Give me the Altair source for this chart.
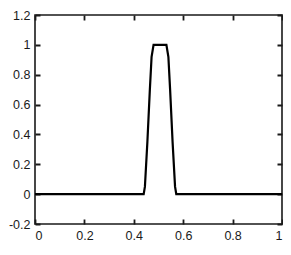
import altair as alt
import pandas as pd

# data
xs = [0, 0.44, 0.445, 0.455, 0.465, 0.472, 0.48, 0.532, 0.54, 0.547, 0.557, 0.567, 0.572, 1]
ys = [0, 0, 0.05, 0.35, 0.7, 0.92, 1, 1, 0.92, 0.7, 0.35, 0.05, 0, 0]
x_ticks = [0, 0.2, 0.4, 0.6, 0.8, 1]
y_ticks = [-0.2, 0, 0.2, 0.4, 0.6, 0.8, 1, 1.2]

df = pd.DataFrame({"x": xs, "y": ys})

W, H = 247, 209
TL = 5  # inward tick length
INK = "#1a1a1a"
FONT = "Liberation Sans"
LABEL = "replace(format(datum.value, '~g'), '\u2212', '-')"

def ax(orient, values, span):
    # MATLAB-style inward ticks on both sides, drawn as dashed grid stubs
    return alt.Axis(
        orient=orient, values=values, domain=False, title=None,
        ticks=False, grid=True, gridColor=INK, gridOpacity=1, gridWidth=1.8,
        gridDash=[TL, span - 2 * TL, TL, 1000],
        labelExpr=LABEL, labelFont=FONT, labelFontSize=12.5,
        labelColor=INK, labelPadding=5,
    )

xscale = alt.Scale(domain=[0, 1], nice=False, zero=False)
yscale = alt.Scale(domain=[-0.2, 1.2], nice=False, zero=False)

chart = (
    alt.Chart(df)
    .mark_line(color="black", strokeWidth=2.2)
    .encode(
        x=alt.X("x:Q", scale=xscale, axis=ax("bottom", x_ticks, H)),
        y=alt.Y("y:Q", scale=yscale, axis=ax("left", y_ticks, W)),
    )
    .properties(
        width=W, height=H,
        autosize=alt.AutoSizeParams(type="none"),
        padding={"left": 27, "top": 7, "right": 1, "bottom": 19},
    )
    .configure_view(stroke=INK, strokeWidth=1.6)
)

chart.save("out.html", embed_options={"renderer": "svg", "actions": False})
